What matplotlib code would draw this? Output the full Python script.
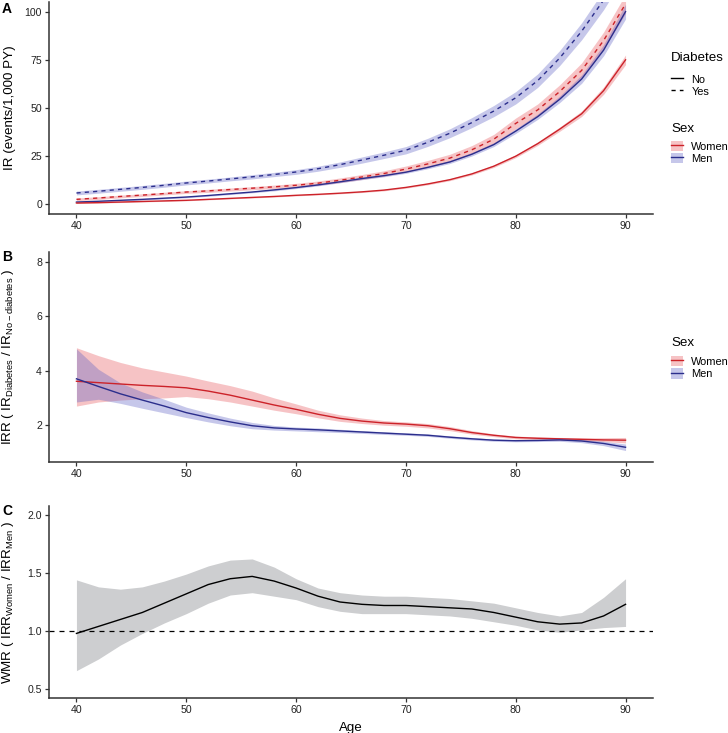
import matplotlib
matplotlib.use("Agg")
import matplotlib.pyplot as plt
import numpy as np
from matplotlib.lines import Line2D
from matplotlib.patches import Patch

plt.rcParams["font.family"] = ["Liberation Sans", "DejaVu Sans"]
plt.rcParams["mathtext.default"] = "regular"

AGE = [40, 42, 44, 46, 48, 50, 52, 54, 56, 58, 60, 62, 64, 66, 68, 70,
       72, 74, 76, 78, 80, 82, 84, 86, 88, 90]

# Panel A: incidence rate (events / 1,000 PY), half-widths of the CI band
IR_MEN_YES = [5.9, 6.8, 7.8, 8.8, 9.9, 11.1, 12.1, 13.2, 14.3, 15.5, 16.8, 18.5, 20.6,
              23.0, 25.5, 28.1, 32.2, 36.9, 42.4, 48.4, 55.3, 64.2, 75.9, 89.8, 106.0, 125.0]
IR_MEN_YES_HW = [1.0, 1.0, 1.0, 1.0, 1.0, 1.0, 1.0, 1.0, 1.1, 1.1, 1.2, 1.3, 1.4,
                 1.6, 1.7, 1.9, 2.1, 2.3, 2.6, 2.9, 3.2, 3.5, 3.9, 4.4, 5.0, 5.6]
IR_WOMEN_YES = [2.6, 3.3, 4.1, 4.8, 5.6, 6.4, 7.0, 7.7, 8.4, 9.1, 9.9, 11.0, 12.5,
                14.2, 16.0, 18.3, 21.0, 24.0, 28.3, 33.8, 42.0, 49.0, 58.5, 69.5, 85.0, 104.0]
IR_WOMEN_YES_HW = [0.7, 0.7, 0.7, 0.7, 0.7, 0.7, 0.8, 0.8, 0.8, 0.9, 1.0, 1.1, 1.2,
                   1.3, 1.4, 1.6, 1.8, 2.0, 2.2, 2.5, 2.8, 3.1, 3.5, 3.9, 4.4, 5.0]
IR_MEN_NO = [1.2, 1.6, 2.1, 2.6, 3.2, 3.8, 4.6, 5.5, 6.4, 7.5, 8.7, 10.1, 11.7,
             13.4, 14.9, 16.7, 19.2, 22.0, 26.0, 31.0, 38.0, 45.5, 54.5, 65.0, 80.0, 100.0]
IR_MEN_NO_HW = [0.4, 0.4, 0.4, 0.4, 0.4, 0.4, 0.4, 0.4, 0.4, 0.5, 0.5, 0.5, 0.5,
                0.6, 0.6, 0.6, 0.7, 0.8, 0.9, 1.0, 1.2, 1.4, 1.7, 2.2, 2.9, 3.8]
IR_WOMEN_NO = [0.7, 0.9, 1.2, 1.5, 1.8, 2.1, 2.6, 3.1, 3.6, 4.1, 4.7, 5.2, 5.8,
               6.5, 7.4, 8.8, 10.6, 12.8, 15.8, 19.8, 25.0, 31.5, 39.0, 47.0, 59.0, 75.0]
IR_WOMEN_NO_HW = [0.25, 0.25, 0.25, 0.25, 0.25, 0.25, 0.25, 0.25, 0.3, 0.3, 0.3, 0.3, 0.3,
                  0.35, 0.4, 0.4, 0.45, 0.5, 0.55, 0.65, 0.75, 0.9, 1.1, 1.4, 1.9, 2.5]

# Panel B: IRR diabetes vs no diabetes
IRR_WOMEN = [3.61, 3.56, 3.51, 3.46, 3.42, 3.37, 3.25, 3.10, 2.92, 2.74, 2.58, 2.40, 2.25,
             2.15, 2.08, 2.04, 1.98, 1.87, 1.73, 1.63, 1.55, 1.52, 1.50, 1.48, 1.46, 1.45]
IRR_WOMEN_LO = [2.70, 2.85, 2.92, 2.97, 3.00, 3.05, 2.97, 2.85, 2.70, 2.55, 2.42, 2.27, 2.14,
                2.06, 2.00, 1.96, 1.90, 1.80, 1.67, 1.58, 1.50, 1.47, 1.45, 1.43, 1.40, 1.35]
IRR_WOMEN_HI = [4.84, 4.55, 4.30, 4.10, 3.95, 3.80, 3.62, 3.45, 3.25, 3.00, 2.78, 2.55, 2.38,
                2.26, 2.17, 2.12, 2.06, 1.95, 1.80, 1.68, 1.60, 1.57, 1.55, 1.54, 1.54, 1.55]
IRR_MEN = [3.70, 3.42, 3.15, 2.92, 2.70, 2.46, 2.28, 2.12, 1.98, 1.90, 1.86, 1.83, 1.79,
           1.75, 1.71, 1.67, 1.63, 1.56, 1.50, 1.45, 1.43, 1.44, 1.46, 1.42, 1.33, 1.19]
IRR_MEN_LO = [2.85, 2.95, 2.80, 2.62, 2.45, 2.28, 2.12, 1.98, 1.87, 1.82, 1.79, 1.76, 1.73,
              1.70, 1.66, 1.63, 1.59, 1.52, 1.46, 1.41, 1.39, 1.40, 1.41, 1.36, 1.25, 1.07]
IRR_MEN_HI = [4.80, 4.05, 3.55, 3.22, 2.95, 2.66, 2.45, 2.26, 2.10, 1.99, 1.93, 1.90, 1.85,
              1.80, 1.76, 1.72, 1.68, 1.61, 1.55, 1.49, 1.47, 1.48, 1.51, 1.48, 1.41, 1.31]

# Panel C: women-to-men ratio
WMR = [0.98, 1.04, 1.10, 1.16, 1.24, 1.32, 1.40, 1.45, 1.47, 1.43, 1.37, 1.30, 1.25,
       1.23, 1.22, 1.22, 1.21, 1.20, 1.19, 1.16, 1.12, 1.08, 1.06, 1.07, 1.13, 1.23]
WMR_LO = [0.66, 0.76, 0.88, 0.98, 1.07, 1.15, 1.24, 1.31, 1.33, 1.30, 1.27, 1.21, 1.17,
          1.15, 1.15, 1.15, 1.14, 1.13, 1.11, 1.08, 1.05, 1.01, 0.99, 1.01, 1.03, 1.04]
WMR_HI = [1.44, 1.38, 1.36, 1.38, 1.43, 1.49, 1.56, 1.61, 1.62, 1.55, 1.45, 1.37, 1.33,
          1.31, 1.30, 1.30, 1.29, 1.28, 1.26, 1.24, 1.20, 1.16, 1.13, 1.16, 1.29, 1.45]

RED = "#CC2229"
BLUE = "#2B2E8C"
RED_FILL = "#E8545A"
BLUE_FILL = "#5C61C4"
FILL_ALPHA = 0.35
TICK_SIZE = 7.6
TITLE_SIZE = 9.6

age = np.array(AGE)

fig = plt.figure(figsize=(7.28, 7.33), dpi=100)
W, H = 728.0, 733.0


def make_axes(top, bottom):
    ax = fig.add_axes([49 / W, 1 - bottom / H, 604 / W, (bottom - top) / H])
    for side in ("top", "right"):
        ax.spines[side].set_visible(False)
    for side in ("left", "bottom"):
        ax.spines[side].set_linewidth(1.1)
        ax.spines[side].set_color("#333333")
    ax.tick_params(length=3, width=0.9, color="#333333", labelsize=TICK_SIZE,
                   labelcolor="#222222", pad=2)
    ax.set_xlim(37.5, 92.5)
    ax.set_xticks([40, 50, 60, 70, 80, 90])
    ax.yaxis.set_label_coords(-0.055, 0.5)
    return ax


# ---- Panel A ----
axA = make_axes(2, 214)
series_a = [
    (IR_MEN_YES, IR_MEN_YES_HW, BLUE, BLUE_FILL, (0, (3, 3))),
    (IR_WOMEN_YES, IR_WOMEN_YES_HW, RED, RED_FILL, (0, (3, 3))),
    (IR_MEN_NO, IR_MEN_NO_HW, BLUE, BLUE_FILL, "-"),
    (IR_WOMEN_NO, IR_WOMEN_NO_HW, RED, RED_FILL, "-"),
]
for vals, hw, col, fill, ls in series_a:
    v = np.array(vals)
    h = np.array(hw)
    axA.fill_between(age, v - h, v + h, color=fill, alpha=FILL_ALPHA, linewidth=0)
for vals, hw, col, fill, ls in series_a:
    axA.plot(age, vals, color=col, lw=1.0, linestyle=ls)
axA.set_ylim(-5, 105)
axA.set_yticks([0, 25, 50, 75, 100])
axA.set_ylabel("IR (events/1,000 PY)", fontsize=TITLE_SIZE)

# ---- Panel B ----
axB = make_axes(252, 462)
axB.fill_between(age, IRR_WOMEN_LO, IRR_WOMEN_HI, color=RED_FILL, alpha=FILL_ALPHA, linewidth=0)
axB.fill_between(age, IRR_MEN_LO, IRR_MEN_HI, color=BLUE_FILL, alpha=FILL_ALPHA, linewidth=0)
axB.plot(age, IRR_WOMEN, color=RED, lw=1.0)
axB.plot(age, IRR_MEN, color=BLUE, lw=1.0)
axB.set_ylim(0.65, 8.35)
axB.set_yticks([2, 4, 6, 8])
axB.set_ylabel(r"IRR ( IR$_{Diabetes}$ / IR$_{No-diabetes}$ )", fontsize=TITLE_SIZE)

# ---- Panel C ----
axC = make_axes(506, 698)
axC.fill_between(age, WMR_LO, WMR_HI, color="#CDCED0", linewidth=0)
axC.plot(age, WMR, color="black", lw=1.0)
axC.axhline(1.0, color="black", lw=0.9, linestyle=(0, (4, 4)))
axC.set_ylim(0.425, 2.075)
axC.set_yticks([0.5, 1.0, 1.5, 2.0])
axC.set_yticklabels(["0.5", "1.0", "1.5", "2.0"])
axC.set_ylabel(r"WMR ( IRR$_{Women}$ / IRR$_{Men}$ )", fontsize=TITLE_SIZE)
axC.set_xlabel("Age", fontsize=TITLE_SIZE, labelpad=5)

# panel letters
for letter, ytop in (("A", 2), ("B", 250), ("C", 504)):
    fig.text(2 / W, 1 - ytop / H, letter, fontsize=10, fontweight="bold", va="top", ha="left")

# legends
sex_handles = [
    (Patch(facecolor=RED_FILL, alpha=FILL_ALPHA, linewidth=0), Line2D([], [], color=RED, lw=1.0)),
    (Patch(facecolor=BLUE_FILL, alpha=FILL_ALPHA, linewidth=0), Line2D([], [], color=BLUE, lw=1.0)),
]
diab_handles = [
    Line2D([], [], color="black", lw=1.0),
    Line2D([], [], color="black", lw=1.0, linestyle=(0, (3, 3))),
]
legend_kw = dict(loc="upper left", frameon=False, fontsize=TICK_SIZE + 0.3,
                 title_fontsize=TITLE_SIZE, handlelength=1.1, handleheight=1.1,
                 handletextpad=0.75, labelspacing=0.1, alignment="left", borderaxespad=0,
                 borderpad=0)


def add_legend(handles, labels, title, ytop, gap):
    leg = fig.legend(handles, labels, title=title,
                     bbox_to_anchor=(671 / W, 1 - ytop / H), **legend_kw)
    leg._legend_box.sep = gap
    return leg


add_legend(diab_handles, ["No", "Yes"], "Diabetes", 52, 7)
add_legend(sex_handles, ["Women", "Men"], "Sex", 123, 4)
add_legend(sex_handles, ["Women", "Men"], "Sex", 337, 5)

fig.savefig("out.png", dpi=100)
